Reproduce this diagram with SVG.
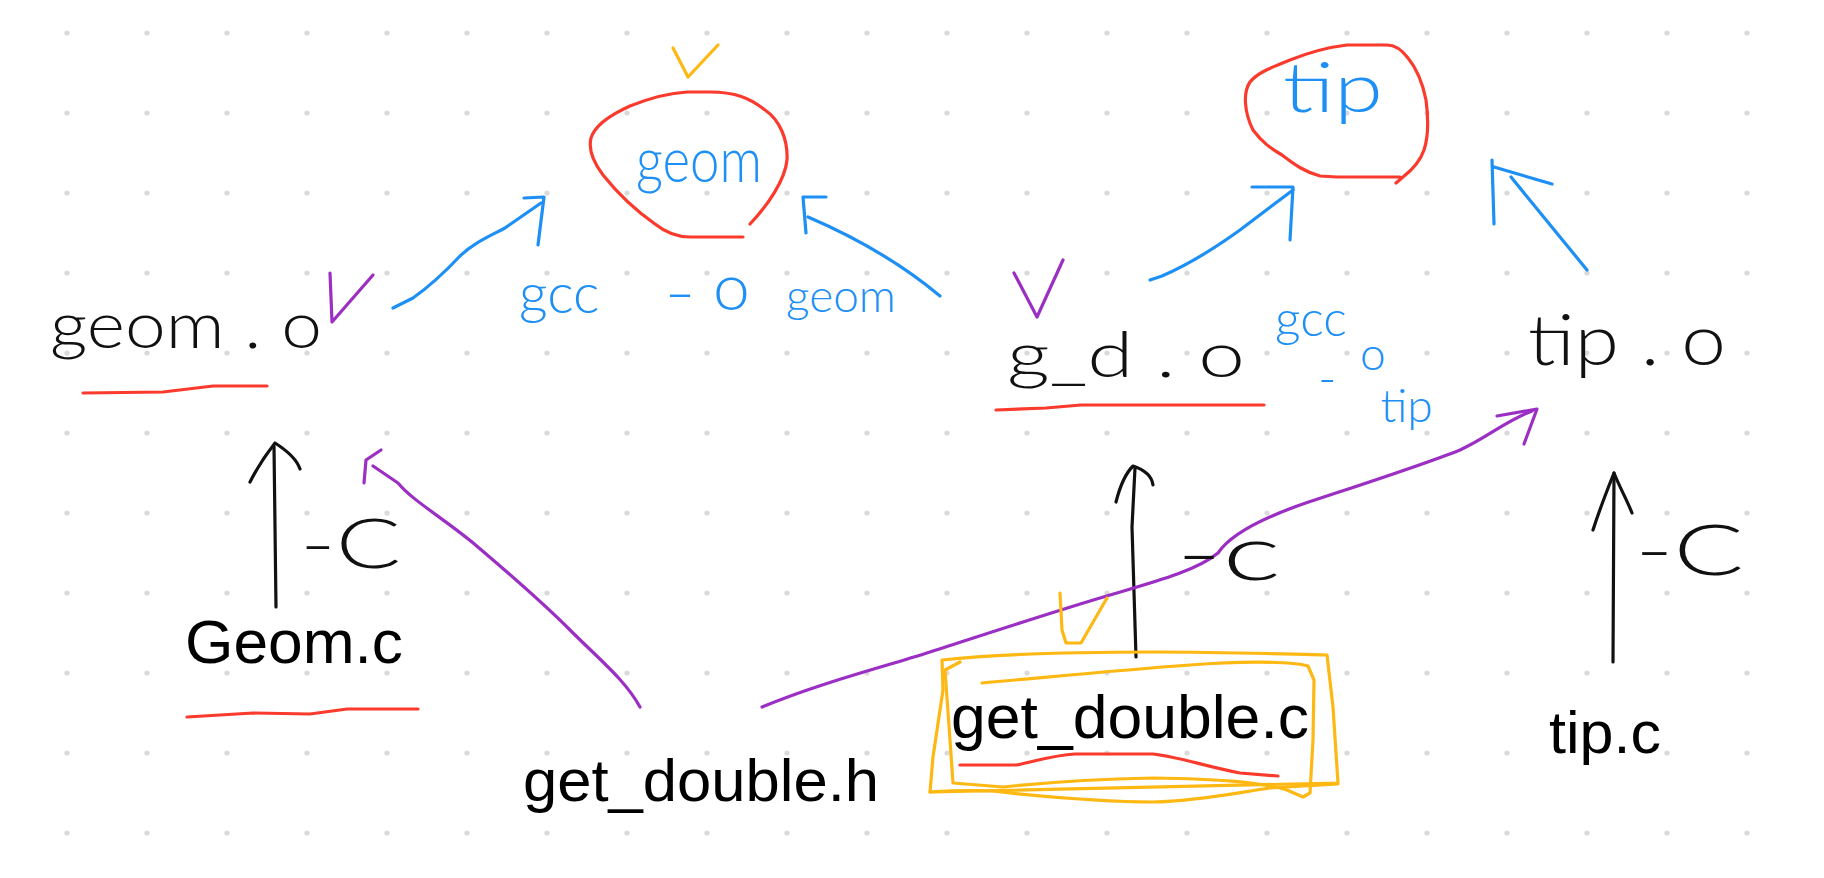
<svg xmlns="http://www.w3.org/2000/svg" width="1824" height="878" viewBox="0 0 1824 878">
<style>
.ink{fill:none;stroke-linecap:round;stroke-linejoin:round;stroke-width:3.2}
.blue{stroke:#1e8ff5}
.red{stroke:#fa3a2c}
.yel{stroke:#fdb813}
.pur{stroke:#9b2fc4}
.blk{stroke:#111}
.hand{font-family:Lato,"Liberation Sans",sans-serif;font-weight:300}
.typed{font-family:"Liberation Sans",Arial,sans-serif;fill:#000}
.tb{fill:#1e8ff5}
.tk{fill:#111}
</style>
<defs>
<pattern id="dots" x="27" y="-7" width="80" height="80" patternUnits="userSpaceOnUse">
<circle cx="40" cy="40" r="2.6" fill="#dadada"/>
</pattern>
</defs>
<rect width="1824" height="878" fill="#fff"/>
<rect x="27" y="-7" width="1760" height="880" fill="url(#dots)"/>

<g id="connectors">
<!-- geom.o -> geom -->
<path class="ink blue" d="M393,308 L413,298 C430,286 445,272 460,256 C475,242 490,236 505,228 L541,203"/>
<path class="ink blue" d="M524,198 L544,197 L538,245"/>
<!-- from right side -> geom -->
<path class="ink blue" d="M940,296 Q885,250 808,217"/>
<path class="ink blue" d="M806,233 L803,197 L826,197"/>
<!-- g_d.o -> tip -->
<path class="ink blue" d="M1150,280 L1162,276 C1190,264 1215,248 1240,230 L1293,190"/>
<path class="ink blue" d="M1252,187 L1293,187 L1290,240"/>
<!-- tip.o -> tip -->
<path class="ink blue" d="M1587,270 L1511,177"/>
<path class="ink blue" d="M1552,184 L1494,167 M1492,160 L1494,224"/>
<!-- Geom.c -> geom.o -->
<path class="ink blk" d="M276,607 L274,446"/>
<path class="ink blk" d="M250,482 C258,466 268,452 275,443 C286,450 297,460 300,469"/>
<!-- get_double.c -> g_d.o -->
<path class="ink blk" d="M1136,657 L1132,527 L1135,468"/>
<path class="ink blk" d="M1116,502 C1120,486 1126,473 1133,466 C1145,470 1152,477 1153,485"/>
<!-- tip.c -> tip.o -->
<path class="ink blk" d="M1613,662 L1614,473"/>
<path class="ink blk" d="M1593,530 C1600,508 1608,488 1614,473 C1620,488 1627,500 1632,513"/>
<!-- get_double.h -> geom.o -->
<path class="ink pur" d="M640,707 C625,680 600,660 570,630 C540,600 505,570 472,542 C440,516 412,500 398,483 L373,466"/>
<path class="ink pur" d="M381,450 L366,460 L364,483"/>
<!-- get_double.h -> tip.o -->
<path class="ink pur" d="M762,707 C820,683 880,668 930,652 C980,636 1040,616 1100,598 C1150,583 1195,572 1218,553 C1230,535 1258,520 1300,505 C1360,485 1420,466 1460,450 C1490,436 1505,421 1532,411"/>
<path class="ink pur" d="M1497,416 L1537,409 L1524,444"/>
<!-- labels -->
<text class="hand tb" font-size="56"><tspan x="519" y="313">gcc</tspan> <tspan x="664" y="313" font-size="60" textLength="32" lengthAdjust="spacingAndGlyphs">-</tspan><tspan x="713" y="310" font-size="66">o</tspan> <tspan x="786" y="312" font-size="46">geom</tspan></text>
<text class="hand tb" font-size="46"><tspan x="1275" y="336" font-size="50">gcc</tspan> <tspan x="1318" y="396" font-size="50">-</tspan><tspan x="1360" y="370">o</tspan><tspan x="1368" y="422"> tip</tspan></text>
<text class="hand tk" x="300" y="568" font-size="68" textLength="101" lengthAdjust="spacingAndGlyphs">-C</text>
<text class="hand tk" x="1176" y="580" font-size="76" textLength="105" lengthAdjust="spacingAndGlyphs">-c</text>
<text class="hand tk" x="1635" y="575" font-size="70" textLength="109" lengthAdjust="spacingAndGlyphs">-C</text>
</g>

<g id="geom">
<path class="ink red" d="M750,224 C768,205 785,180 787,160 C788,140 780,120 765,110 C750,98 735,92 710,92 L687,92 C670,93 650,98 630,106 C610,115 595,125 591,138 C588,150 594,163 603,175 C615,190 635,210 655,224 C665,232 678,237 690,237 L743,237"/>
<path class="ink yel" d="M673,48 L688,77 L718,45"/>
<text class="hand tb" x="636" y="182" font-size="64" textLength="126" lengthAdjust="spacingAndGlyphs">geom</text>
</g>

<g id="tip">
<path class="ink red" d="M1396,183 L1403,177 C1412,170 1420,162 1424,150 C1429,135 1428,115 1426,100 C1423,85 1418,70 1408,58 C1402,50 1395,45 1387,45 L1347,45 C1330,47 1310,52 1290,60 C1275,66 1258,72 1250,82 C1243,92 1244,112 1253,130 C1262,142 1270,148 1282,155 C1295,165 1305,172 1320,176 L1337,177 L1400,177"/>
<text class="hand tb" x="1283" y="112" font-size="68" textLength="100" lengthAdjust="spacingAndGlyphs">tip</text>
</g>

<g id="geom_o">
<text class="hand tk" x="50" y="348" font-size="66" textLength="272" lengthAdjust="spacingAndGlyphs">geom . o</text>
<path class="ink red" d="M83,393 L163,392 L213,386 L267,386"/>
<path class="ink pur" d="M330,273 L332,322 L373,275"/>
</g>

<g id="g_d_o">
<text class="hand tk" x="1007" y="377" font-size="64" textLength="238" lengthAdjust="spacingAndGlyphs">g_d . o</text>
<path class="ink red" d="M996,410 L1046,408 L1081,405 L1264,405"/>
<path class="ink pur" d="M1014,273 L1037,317 L1063,260"/>
</g>

<g id="tip_o">
<text class="hand tk" x="1528" y="365" font-size="70" textLength="198" lengthAdjust="spacingAndGlyphs">tip . o</text>
</g>

<g id="Geom_c">
<text class="typed" x="185" y="663" font-size="62" textLength="218" lengthAdjust="spacingAndGlyphs">Geom.c</text>
<path class="ink red" d="M187,717 L253,713 L310,714 L347,709 L418,709"/>
</g>

<g id="get_double_h">
<text class="typed" x="523" y="801" font-size="60" textLength="356" lengthAdjust="spacingAndGlyphs">get_double.h</text>
</g>

<g id="get_double_c">
<path class="ink yel" d="M942,660 C990,655 1060,652 1153,652 C1220,652 1290,654 1327,655 L1333,707 L1338,783 C1250,785 1100,788 930,792 L933,757 L943,690 L942,660"/>
<path class="ink yel" d="M982,683 C1050,677 1120,670 1190,665 C1240,661 1290,661 1308,666 L1314,680 L1313,740 L1310,793 L1303,797 L1287,790 C1260,782 1220,779 1153,778 C1100,779 1060,781 1003,787 L953,783 L950,740 L945,670 L960,662"/>
<path class="ink yel" d="M930,792 C960,790 990,790 1010,793 C1050,797 1100,802 1153,802 C1200,801 1240,792 1270,788 L1338,784"/>
<path class="ink yel" d="M1060,593 L1062,630 L1066,643 L1081,643 L1107,598"/>
<text class="typed" x="951" y="738" font-size="62" textLength="358" lengthAdjust="spacingAndGlyphs">get_double.c</text>
<path class="ink red" d="M960,765 L1017,765 C1040,760 1055,755 1075,754 L1153,754 C1180,757 1200,765 1240,773 L1278,776"/>
</g>

<g id="tip_c">
<text class="typed" x="1549" y="753" font-size="60" textLength="112" lengthAdjust="spacingAndGlyphs">tip.c</text>
</g>
</svg>
